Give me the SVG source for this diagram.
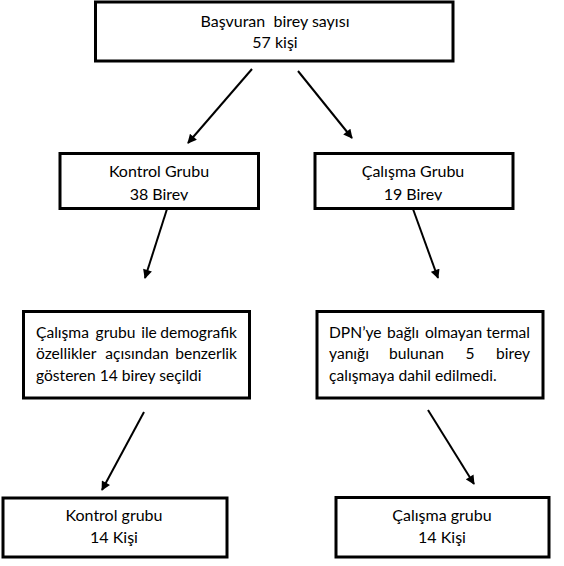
<svg xmlns="http://www.w3.org/2000/svg" width="564" height="566" viewBox="0 0 564 566">
  <defs>
    <style>
      .box { fill: #ffffff; stroke: #000000; stroke-width: 3; }
      .t { font-family: Lato, "Open Sans", "Liberation Sans", sans-serif; font-size: 16px; fill: #000000; }
      .j { font-size: 15.6px; }
      .c { text-anchor: middle; }
      .e { text-anchor: end; }
      .conn line { stroke: #000000; stroke-width: 2; marker-end: url(#arr); }
    </style>
    <marker id="arr" viewBox="0 0 10 10" refX="9" refY="5" markerWidth="5" markerHeight="4.6" orient="auto" markerUnits="strokeWidth">
      <path d="M0,0 L10,5 L0,10 z" fill="#000000"/>
    </marker>
    <clipPath id="clipK"><rect x="61" y="155" width="196" height="45.5"/></clipPath>
    <clipPath id="clipC"><rect x="316" y="155" width="196" height="45.5"/></clipPath>
  </defs>

  <g id="n-basvuran">
    <rect class="box" x="95.5" y="2" width="357.5" height="59" stroke-width="3.5"/>
    <text class="t c" x="275" y="27" xml:space="preserve">Başvuran  birey sayısı</text>
    <text class="t c" x="275" y="48">57 kişi</text>
  </g>

  <g id="n-kontrol">
    <rect class="box" x="60" y="153.5" width="198.5" height="55"/>
    <g clip-path="url(#clipK)">
      <text class="t c" x="159" y="177">Kontrol Grubu</text>
      <text class="t c" x="159" y="199.5">38 Birey</text>
    </g>
  </g>

  <g id="n-calisma">
    <rect class="box" x="315" y="153.5" width="198" height="55"/>
    <g clip-path="url(#clipC)">
      <text class="t c" x="413" y="177">Çalışma Grubu</text>
      <text class="t c" x="413" y="199.5">19 Birey</text>
    </g>
  </g>

  <g id="n-secim">
    <rect class="box" x="23.5" y="311.5" width="226" height="86.5"/>
    <text class="t j" x="36" y="337.5">Çalışma</text>
    <text class="t j c" x="115.5" y="337.5">grubu</text>
    <text class="t j c" x="149" y="337.5">ile</text>
    <text class="t j e" x="237" y="337.5">demografik</text>
    <text class="t j" x="36" y="359">özellikler</text>
    <text class="t j c" x="137" y="359">açısından</text>
    <text class="t j e" x="237" y="359">benzerlik</text>
    <text class="t j" x="36" y="380.5">gösteren 14 birey seçildi</text>
  </g>

  <g id="n-dislanan">
    <rect class="box" x="317" y="311.5" width="226" height="86.5"/>
    <text class="t j" x="329" y="337.5">DPN’ye</text>
    <text class="t j c" x="403" y="337.5">bağlı</text>
    <text class="t j c" x="453.5" y="337.5">olmayan</text>
    <text class="t j e" x="530" y="337.5">termal</text>
    <text class="t j" x="329" y="359">yanığı</text>
    <text class="t j c" x="416.5" y="359">bulunan</text>
    <text class="t j c" x="470" y="359">5</text>
    <text class="t j e" x="530" y="359">birey</text>
    <text class="t j" x="329" y="380.5">çalışmaya dahil edilmedi.</text>
  </g>

  <g id="n-kontrol-son">
    <rect class="box" x="3" y="498" width="224" height="59"/>
    <text class="t c" x="114" y="521">Kontrol grubu</text>
    <text class="t c" x="114" y="543">14 Kişi</text>
  </g>

  <g id="n-calisma-son">
    <rect class="box" x="336" y="497.5" width="213" height="59.5"/>
    <text class="t c" x="442" y="521">Çalışma grubu</text>
    <text class="t c" x="442" y="543">14 Kişi</text>
  </g>

  <g id="connectors" class="conn">
    <line x1="252" y1="69" x2="188" y2="143"/>
    <line x1="298" y1="71" x2="352" y2="138"/>
    <line x1="167" y1="209" x2="145" y2="278"/>
    <line x1="413" y1="209" x2="438" y2="278"/>
    <line x1="144" y1="412" x2="102" y2="490"/>
    <line x1="428" y1="410" x2="474" y2="484"/>
  </g>
</svg>
